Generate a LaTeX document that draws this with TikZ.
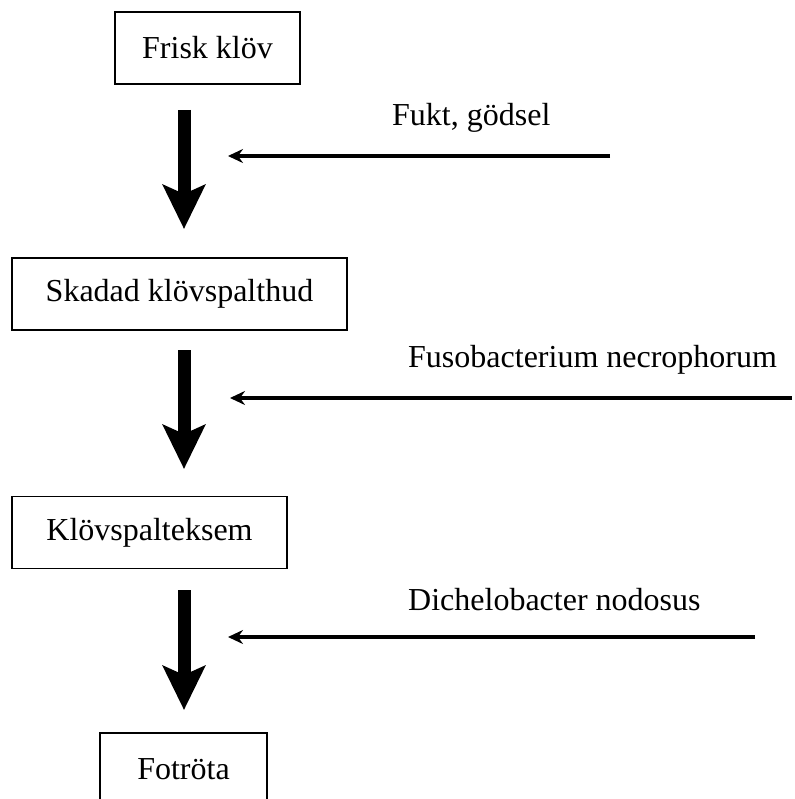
\documentclass[tikz,border=0pt]{standalone}
\usepackage{fontspec}
\setmainfont{Liberation Serif}
\usetikzlibrary{arrows.meta}

\begin{document}
\begin{tikzpicture}[x=1pt,y=-1pt,
					boxnode/.style={rectangle, draw=black, line width=1.5pt, inner sep=0pt, minimum height=72pt, font=\fontsize{32}{38}\selectfont},
					labelnode/.style={inner sep=0pt, anchor=west, font=\fontsize{32}{38}\selectfont},
					bigarrow/.style={line width=13pt, -{Stealth[length=44pt,width=42pt,inset=9pt]}},
					thinarrow/.style={line width=3.5pt, -{Stealth[length=15pt,width=14pt,inset=5pt]}},
					]
					\useasboundingbox (0,0) rectangle (794,799);
					%Nodes
					\node[boxnode, minimum width=185pt]      (frisk)   at (207.5,48)   {Frisk klöv};
					\node[boxnode, minimum width=335pt]      (skadad)  at (179.5,294)  {Skadad klövspalthud};
					\node[boxnode, minimum width=275pt]      (eksem)   at (149.5,532.5) {Klövspalteksem};
					\node[boxnode, minimum width=167pt]      (fotrota) at (183.5,769)  {Fotröta};
					
					\node[labelnode]      (fukt)  at (392,118)  {Fukt, gödsel};
					\node[labelnode]      (fuso)  at (408,360)  {Fusobacterium necrophorum};
					\node[labelnode]      (diche) at (408,600)  {Dichelobacter nodosus};
					
					%Coordinates
					\coordinate (a1) at (184,110);
					\coordinate (b1) at (184,229);
					\coordinate (a2) at (184,350);
					\coordinate (b2) at (184,469);
					\coordinate (a3) at (184,590);
					\coordinate (b3) at (184,710);
					\coordinate (f1) at (610,156);
					\coordinate (g1) at (228,156);
					\coordinate (f2) at (792,398);
					\coordinate (g2) at (230,398);
					\coordinate (f3) at (755,637);
					\coordinate (g3) at (228,637);
					
					%Lines
					\draw[bigarrow] (a1) -- (b1);
					\draw[bigarrow] (a2) -- (b2);
					\draw[bigarrow] (a3) -- (b3);
					\draw[thinarrow] (f1) -- (g1);
					\draw[thinarrow] (f2) -- (g2);
					\draw[thinarrow] (f3) -- (g3);
				\end{tikzpicture}
\end{document}
